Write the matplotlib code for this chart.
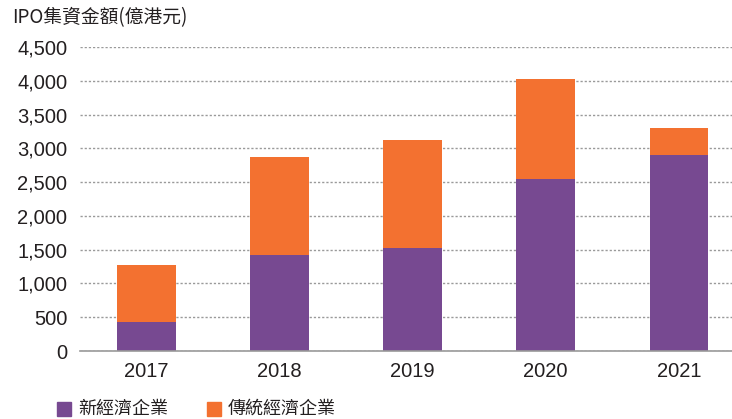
import matplotlib
matplotlib.use("Agg")
import matplotlib.pyplot as plt
from matplotlib.patches import Rectangle
from matplotlib.ticker import FuncFormatter

plt.rcParams['font.family'] = ['Noto Sans CJK TC', 'DejaVu Sans']

# données (億港元)
years = ["2017", "2018", "2019", "2020", "2021"]
new_economy = [430, 1420, 1525, 2545, 2900]
traditional = [845, 1450, 1595, 1480, 400]
y_ticks = [0, 500, 1000, 1500, 2000, 2500, 3000, 3500, 4000, 4500]

PURPLE = "#774991"
ORANGE = "#F37130"
TEXT = "#231f20"
NUM_FONT = ['Liberation Sans', 'Noto Sans CJK TC']

fig = plt.figure(figsize=(7.32, 4.19), dpi=100)
ax = fig.add_axes([80 / 732, (419 - 351) / 419, (732 - 80) / 732, (351 - 47) / 419])

x = list(range(len(years)))
ax.bar(x, new_economy, width=0.44, color=PURPLE, zorder=3)
ax.bar(x, traditional, width=0.44, bottom=new_economy, color=ORANGE, zorder=3)

ax.set_xlim(-0.5, 4.4)
ax.set_ylim(0, 4500)
ax.set_yticks(y_ticks)
ax.yaxis.set_major_formatter(FuncFormatter(lambda v, p: f"{int(v):,}"))
ax.set_xticks(x)
ax.set_xticklabels(years)

for s in ["top", "right", "left"]:
    ax.spines[s].set_visible(False)
ax.spines["bottom"].set_color("#999999")
ax.spines["bottom"].set_linewidth(1.2)
ax.spines["bottom"].set_zorder(4)

ax.yaxis.grid(True, linestyle=(0, (1.6, 1.4)), color="#9a9a9a", linewidth=1, zorder=0)
ax.tick_params(axis="both", length=0, labelcolor=TEXT)
ax.tick_params(axis="y", pad=9)
ax.tick_params(axis="x", pad=8)
for lbl in ax.get_yticklabels() + ax.get_xticklabels():
    lbl.set_family(NUM_FONT)
    lbl.set_fontsize(14.5)

fig.text(12 / 732, 1 - 18 / 419, "IPO集資金額(億港元)", fontsize=13.5, color=TEXT,
         va="center", ha="left", fontweight="medium")

# légende
legend_items = [("新經濟企業", PURPLE, 57), ("傳統經濟企業", ORANGE, 207)]
for label, col, px in legend_items:
    fig.patches.append(Rectangle((px / 732, 1 - 416 / 419), 14 / 732, 14 / 419,
                                 transform=fig.transFigure, color=col))
    fig.text((px + 21) / 732, 1 - 409 / 419, label, fontsize=13, color=TEXT,
             va="center", ha="left")

fig.savefig("out.png", dpi=100)
